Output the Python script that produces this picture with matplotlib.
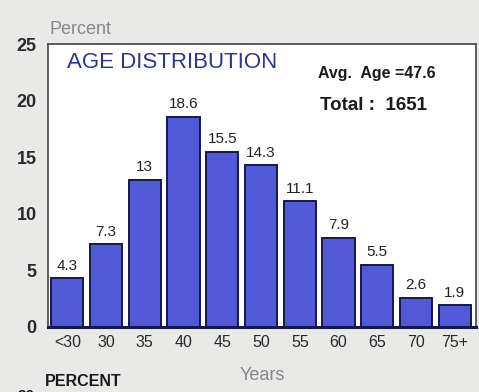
import matplotlib
matplotlib.use("Agg")
import matplotlib.pyplot as plt

# Age distribution data
categories = ["<30", "30", "35", "40", "45", "50", "55", "60", "65", "70", "75+"]
percent = [4.3, 7.3, 13, 18.6, 15.5, 14.3, 11.1, 7.9, 5.5, 2.6, 1.9]
value_labels = ["4.3", "7.3", "13", "18.6", "15.5", "14.3", "11.1", "7.9", "5.5", "2.6", "1.9"]
y_ticks = [0, 5, 10, 15, 20, 25]
avg_age = 47.6
total = 1651

plt.rcParams['font.family'] = ['Liberation Sans', 'DejaVu Sans']

fig = plt.figure(figsize=(4.79, 3.92), dpi=100)
fig.patch.set_facecolor("#e9e9e7")
ax = fig.add_axes([0.100, 0.166, 0.894, 0.721])
ax.set_facecolor("white")

x = list(range(len(categories)))
bars = ax.bar(x, percent, width=0.83, color="#5259d6", edgecolor="#15184a", linewidth=1.4)
for xi, v, lab in zip(x, percent, value_labels):
    ax.text(xi, v + 0.5, lab, ha="center", va="bottom", fontsize=11, color="#222222")

ax.set_xlim(-0.5, 10.55)
ax.set_ylim(0, 25)
ax.set_xticks(x)
ax.set_xticklabels(categories, fontsize=11.5, color="#2a2a2a")
ax.set_yticks(y_ticks)
ax.set_yticklabels([str(t) for t in y_ticks], fontsize=13, fontweight="bold", color="#2a2a2a")
ax.tick_params(axis="both", length=0, pad=6)
ax.tick_params(axis="y", pad=8)

for side in ["left", "top", "right"]:
    ax.spines[side].set_color("#444444")
    ax.spines[side].set_linewidth(1.2)
ax.spines["bottom"].set_color("#15184a")
ax.spines["bottom"].set_linewidth(2.2)

ax.text(0.045, 0.935, "AGE DISTRIBUTION", transform=ax.transAxes, fontsize=16,
        color="#2a3596", ha="left", va="center")
ax.text(0.63, 0.895, f"Avg.  Age ={avg_age}", transform=ax.transAxes, fontsize=11.5,
        fontweight="bold", color="#1a1a1a", ha="left", va="center")
ax.text(0.635, 0.785, f"Total :  {total}", transform=ax.transAxes, fontsize=13.5,
        fontweight="bold", color="#1a1a1a", ha="left", va="center")

fig.text(0.104, 0.925, "Percent", fontsize=13, color="#888888", ha="left", va="center")
fig.text(0.548, 0.043, "Years", fontsize=13, color="#888888", ha="center", va="center")
fig.text(0.094, 0.026, "PERCENT", fontsize=11.5, fontweight="bold", color="#1a1a1a",
         ha="left", va="center")
fig.text(0.036, 0.008, "20", fontsize=11, fontweight="bold", color="#1a1a1a",
         ha="left", va="top")

fig.savefig("out.png", dpi=100, facecolor=fig.get_facecolor())
